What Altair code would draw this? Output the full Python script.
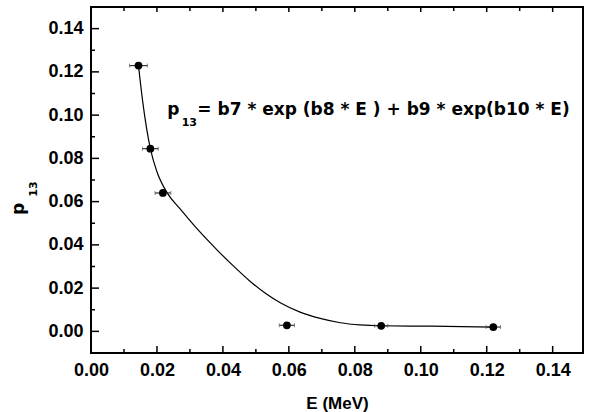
import altair as alt
import pandas as pd

# ---- data ----
E = [0.0144, 0.0180, 0.0218, 0.0594, 0.0880, 0.1220]
p13 = [0.1229, 0.0845, 0.0640, 0.0028, 0.0026, 0.0020]
E_err = [0.0027, 0.0024, 0.0024, 0.0023, 0.0020, 0.0022]

fit_E = [0.0144, 0.0157, 0.0180, 0.0200, 0.0232, 0.0271, 0.0320, 0.0382, 0.0430,
         0.0483, 0.0530, 0.0574, 0.0634, 0.0695, 0.0756, 0.0816, 0.0877, 0.1028, 0.1220]
fit_p = [0.1229, 0.1060, 0.0845, 0.0738, 0.0638, 0.0565, 0.0477, 0.0377, 0.0305,
         0.0231, 0.0175, 0.0132, 0.0089, 0.0060, 0.0040, 0.0030, 0.0026, 0.0024, 0.0020]

x_major = [0.00, 0.02, 0.04, 0.06, 0.08, 0.10, 0.12, 0.14]
x_minor = [0.01, 0.03, 0.05, 0.07, 0.09, 0.11, 0.13]
y_major = [0.00, 0.02, 0.04, 0.06, 0.08, 0.10, 0.12, 0.14]
y_minor = [0.01, 0.03, 0.05, 0.07, 0.09, 0.11, 0.13]

x_title = "E (MeV)"
y_title_main = "p"
y_title_sub = "13"
eq_main = "p"
eq_sub = "13"
eq_rest = "= b7 * exp (b8 * E ) + b9 * exp(b10 * E)"

# ---- layout / style ----
W, H = 492, 346
LABEL_FONT = "Liberation Sans"
EQ_FONT = "DejaVu Sans"

xs = alt.Scale(domain=[0, 0.1492], nice=False, zero=False)
ys = alt.Scale(domain=[-0.01, 0.15], nice=False, zero=False)

pts = pd.DataFrame({
    "E": E,
    "p": p13,
    "lo": [e - d for e, d in zip(E, E_err)],
    "hi": [e + d for e, d in zip(E, E_err)],
})
fit = pd.DataFrame({"E": fit_E, "p": fit_p})

x_axis = alt.Axis(values=x_major, format=".2f", ticks=False, domain=False, grid=False,
                  labelFont=LABEL_FONT, labelFontWeight="bold", labelFontSize=18,
                  labelColor="black", labelPadding=8, labelFlush=False, labelOverlap=False,
                  title=x_title, titleFont=LABEL_FONT, titleFontWeight="bold",
                  titleFontSize=17, titleColor="black", titleY=55,
                  titleBaseline="alphabetic")
y_axis = alt.Axis(values=y_major, format=".2f", ticks=False, domain=False, grid=False,
                  labelFont=LABEL_FONT, labelFontWeight="bold", labelFontSize=18,
                  labelColor="black", labelPadding=8, labelFlush=False, labelOverlap=False,
                  title="")


def X(field):
    return alt.X(field, scale=xs, axis=x_axis, title=x_title)


def Y(field):
    return alt.Y(field, scale=ys, axis=y_axis, title="")


curve = alt.Chart(fit).mark_line(color="black", strokeWidth=1.2, interpolate="monotone").encode(
    x=X("E:Q"), y=Y("p:Q"))

errbar = alt.Chart(pts).mark_rule(color="#333333", strokeWidth=1.2).encode(
    x=X("lo:Q"), x2="hi:Q", y=Y("p:Q"))
cap_lo = alt.Chart(pts).mark_tick(color="#555555", thickness=1, size=4, orient="vertical").encode(
    x=X("lo:Q"), y=Y("p:Q"))
cap_hi = alt.Chart(pts).mark_tick(color="#555555", thickness=1, size=4, orient="vertical").encode(
    x=X("hi:Q"), y=Y("p:Q"))

points = alt.Chart(pts).mark_circle(size=60, color="black", opacity=1).encode(
    x=X("E:Q"), y=Y("p:Q"))


def xticks(vals, y0, y1):
    return alt.Chart(pd.DataFrame({"E": vals})).mark_rule(color="black", strokeWidth=1.5).encode(
        x=X("E:Q"), y=alt.value(y0), y2=alt.value(y1))


def yticks(vals, x0, x1):
    return alt.Chart(pd.DataFrame({"p": vals})).mark_rule(color="black", strokeWidth=1.5).encode(
        y=Y("p:Q"), x=alt.value(x0), x2=alt.value(x1))


ticks = [
    xticks(x_major, H, H - 7), xticks(x_minor, H, H - 4),
    xticks(x_major, 0, 5), xticks(x_minor, 0, 4),
    yticks(y_major, 0, 8), yticks(y_minor, 0, 4),
]


def eq_text(txt, xv, yv, size):
    return alt.Chart(pd.DataFrame({"t": [txt], "E": [xv], "p": [yv]})).mark_text(
        align="left", baseline="alphabetic", font=EQ_FONT, fontWeight="bold",
        fontSize=size, color="black").encode(x=X("E:Q"), y=Y("p:Q"), text="t:N")


eq = [
    eq_text(eq_main, 0.02314, 0.1001, 17),
    eq_text(eq_sub, 0.0275, 0.0950, 11),
    eq_text(eq_rest, 0.03224, 0.1001, 17),
]


def ytitle_text(txt, xp, yp, size):
    return alt.Chart(pd.DataFrame({"t": [txt]})).mark_text(
        align="left", baseline="alphabetic", angle=270, font=EQ_FONT, fontWeight="bold",
        fontSize=size, color="black").encode(
        x=alt.value(xp), y=alt.value(yp), text="t:N")


ytitle = [
    ytitle_text(y_title_main, -67.5, 208, 17),
    ytitle_text(y_title_sub, -54.3, 189.7, 11),
]

chart = alt.layer(curve, errbar, cap_lo, cap_hi, points, *ticks, *eq, *ytitle).properties(
    width=W, height=H,
    autosize=alt.AutoSizeParams(type="none"),
    padding={"left": 91, "top": 7, "right": 6, "bottom": 59},
    background="white",
).configure_view(stroke="black", strokeWidth=2)

chart.save("out.html", embed_options={"renderer": "svg", "actions": False})
